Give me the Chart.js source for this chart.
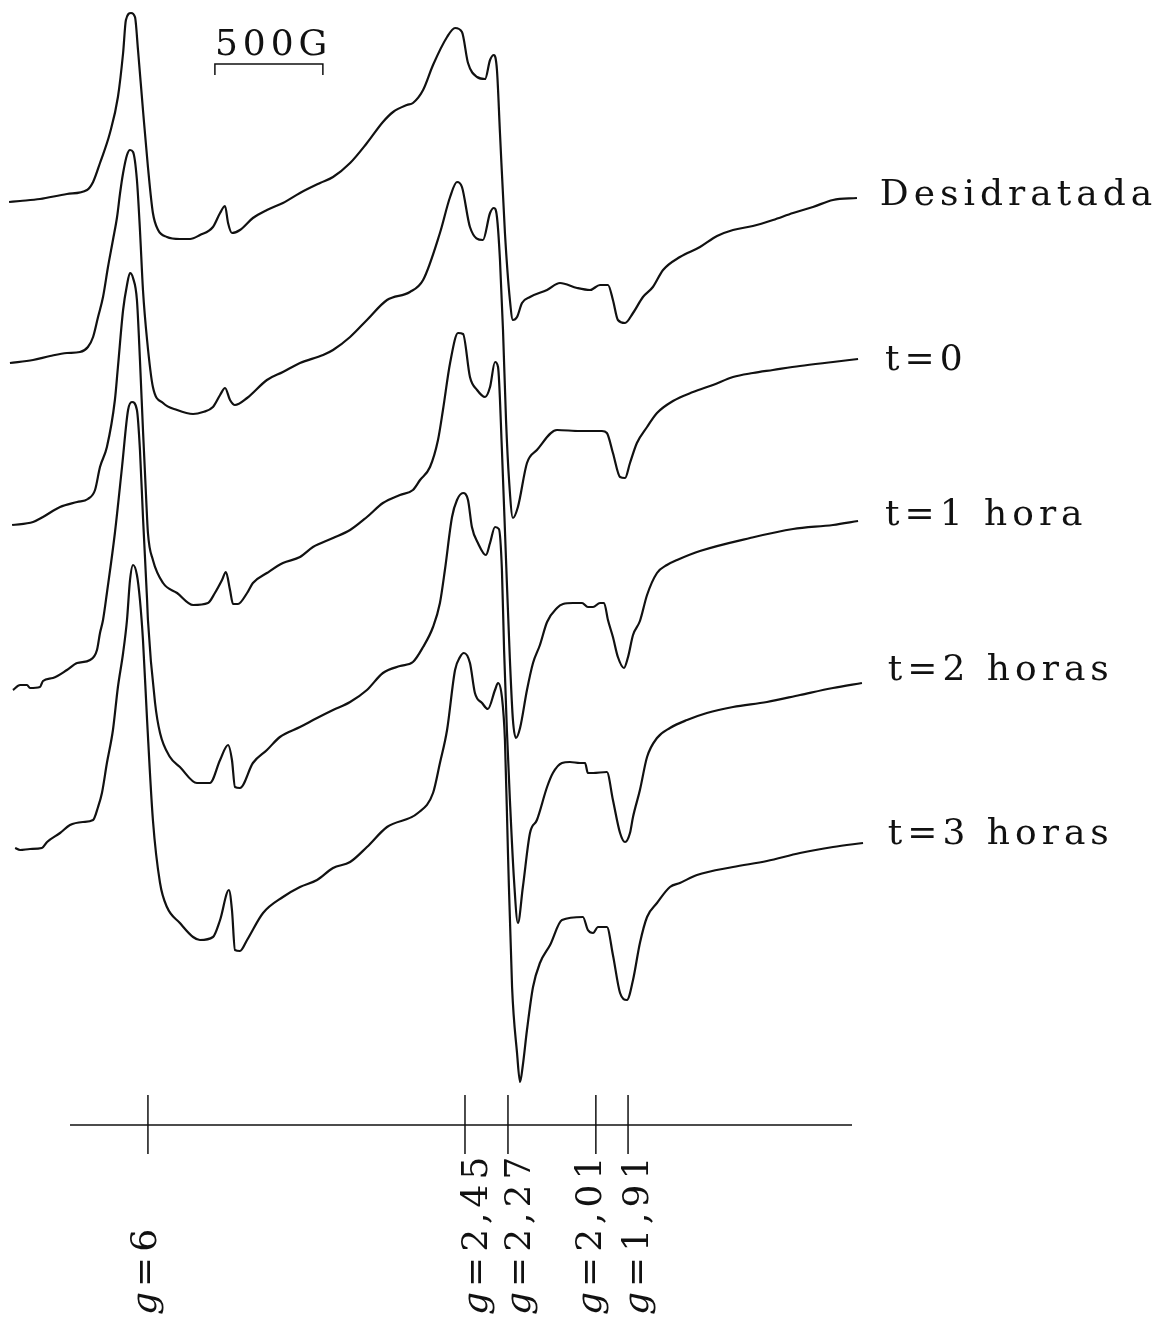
<!DOCTYPE html>
<html>
<head>
<meta charset="utf-8">
<script src="https://cdn.jsdelivr.net/npm/chart.js@4.4.1/dist/chart.umd.min.js"></script>
<style>
  html, body { margin: 0; padding: 0; background: #fff; }
  canvas { display: block; }
</style>
</head>
<body>
<canvas id="epr" width="1171" height="1320"></canvas>
<script>
// EPR spectra, [field (G), signal (a.u.)]; signal measured from the left end of each trace
const desidratada = [[642,0],[693,1],[785,3],[910,8],[1003,12],[1031,20],[1063,39],[1109,69],[1146,105],[1170,149],[1183,182],[1207,189],[1225,185],[1239,152],[1262,92],[1285,35],[1308,-11],[1332,-28],[1373,-35],[1433,-37],[1480,-37],[1526,-33],[1586,-25],[1619,-11],[1642,-4],[1656,-21],[1674,-31],[1711,-28],[1771,-16],[1836,-8],[1910,-1],[1989,9],[2082,19],[2142,25],[2221,39],[2299,59],[2373,80],[2420,90],[2484,97],[2512,99],[2559,112],[2605,137],[2670,165],[2707,174],[2739,170],[2767,139],[2809,125],[2846,123],[2869,142],[2887,147],[2901,132],[2915,69],[2938,-31],[2961,-98],[2975,-118],[2994,-115],[3017,-101],[3054,-95],[3133,-88],[3193,-81],[3272,-86],[3332,-88],[3378,-83],[3415,-83],[3438,-98],[3461,-118],[3494,-121],[3531,-111],[3577,-95],[3623,-85],[3670,-68],[3748,-55],[3841,-45],[3920,-34],[3994,-28],[4086,-24],[4179,-18],[4272,-11],[4364,-5],[4457,2],[4568,4]];

const hora0 = [[646,0],[753,3],[832,7],[910,10],[970,11],[1007,16],[1031,26],[1054,46],[1077,66],[1100,96],[1123,123],[1142,146],[1156,170],[1170,190],[1188,208],[1202,213],[1216,211],[1234,183],[1248,133],[1262,73],[1281,23],[1308,-24],[1355,-40],[1420,-47],[1494,-51],[1540,-49],[1586,-44],[1619,-32],[1642,-25],[1665,-37],[1688,-42],[1744,-35],[1836,-17],[1910,-9],[1989,0],[2096,8],[2142,13],[2221,26],[2299,43],[2392,63],[2498,71],[2559,83],[2637,130],[2684,166],[2716,181],[2739,176],[2776,136],[2836,123],[2869,150],[2887,155],[2901,146],[2915,103],[2929,33],[2943,-57],[2957,-117],[2975,-155],[2998,-144],[3040,-100],[3086,-87],[3179,-67],[3285,-68],[3387,-68],[3410,-70],[3438,-90],[3471,-114],[3494,-115],[3517,-100],[3549,-80],[3596,-64],[3642,-50],[3716,-38],[3809,-29],[3901,-22],[3994,-14],[4086,-10],[4179,-7],[4304,-3],[4457,1],[4573,4]];

const hora1 = [[656,0],[753,3],[799,8],[878,18],[957,23],[1007,26],[1040,35],[1063,58],[1095,78],[1132,125],[1146,158],[1170,215],[1188,240],[1202,252],[1216,247],[1234,225],[1248,165],[1262,95],[1276,30],[1285,-8],[1308,-35],[1355,-58],[1420,-68],[1494,-80],[1563,-78],[1595,-68],[1628,-55],[1646,-47],[1665,-65],[1679,-79],[1702,-79],[1744,-68],[1771,-58],[1836,-48],[1910,-38],[1989,-32],[2049,-22],[2142,-13],[2221,-5],[2299,8],[2373,22],[2452,30],[2512,35],[2545,45],[2591,58],[2628,85],[2651,115],[2684,162],[2721,192],[2744,191],[2776,148],[2809,135],[2846,128],[2869,138],[2892,163],[2906,158],[2924,75],[2943,-35],[2961,-135],[2975,-195],[2989,-213],[3008,-203],[3040,-165],[3068,-138],[3100,-120],[3133,-97],[3179,-83],[3207,-79],[3253,-78],[3295,-78],[3322,-82],[3346,-82],[3378,-78],[3397,-78],[3415,-95],[3438,-112],[3461,-132],[3489,-143],[3508,-132],[3531,-110],[3563,-96],[3596,-70],[3642,-48],[3688,-40],[3735,-35],[3841,-26],[4073,-13],[4272,-4],[4457,0],[4573,4]];

const hora2 = [[660,0],[693,5],[725,5],[739,2],[785,3],[799,9],[845,12],[910,20],[957,27],[1017,30],[1049,40],[1063,57],[1077,70],[1095,97],[1132,157],[1165,223],[1193,280],[1211,288],[1234,280],[1248,240],[1262,173],[1281,90],[1285,70],[1318,-13],[1341,-43],[1387,-67],[1433,-77],[1512,-93],[1572,-93],[1619,-70],[1656,-55],[1674,-70],[1688,-97],[1711,-98],[1771,-73],[1836,-60],[1896,-47],[1989,-37],[2068,-28],[2142,-20],[2221,-12],[2299,0],[2373,17],[2452,24],[2512,28],[2559,43],[2605,63],[2637,87],[2660,120],[2693,173],[2716,190],[2744,197],[2767,190],[2785,163],[2813,147],[2850,135],[2869,147],[2892,163],[2910,161],[2924,120],[2934,40],[2947,-40],[2961,-110],[2980,-190],[2998,-233],[3021,-197],[3054,-143],[3086,-130],[3133,-97],[3160,-83],[3202,-73],[3239,-72],[3285,-73],[3309,-73],[3322,-83],[3346,-83],[3410,-82],[3438,-110],[3471,-143],[3494,-152],[3517,-143],[3531,-127],[3563,-100],[3596,-67],[3642,-48],[3702,-38],[3781,-30],[3873,-23],[3994,-17],[4151,-12],[4304,-5],[4457,2],[4591,7]];

const hora3 = [[670,0],[693,-2],[739,-1],[794,0],[818,6],[878,15],[924,23],[984,26],[1031,28],[1054,41],[1072,55],[1095,85],[1123,118],[1146,161],[1170,195],[1188,228],[1202,268],[1216,283],[1234,273],[1248,248],[1262,208],[1281,128],[1308,28],[1341,-35],[1373,-59],[1433,-75],[1494,-89],[1526,-92],[1586,-89],[1619,-72],[1660,-42],[1674,-62],[1688,-102],[1711,-103],[1744,-92],[1818,-65],[1910,-49],[1989,-39],[2068,-32],[2142,-20],[2221,-14],[2299,1],[2392,21],[2535,35],[2605,55],[2637,85],[2670,118],[2707,178],[2730,191],[2748,195],[2776,185],[2799,155],[2832,145],[2859,139],[2892,158],[2906,165],[2924,151],[2938,108],[2952,-5],[2971,-139],[2994,-205],[3008,-234],[3021,-217],[3040,-182],[3068,-139],[3100,-115],[3147,-97],[3202,-72],[3299,-69],[3322,-82],[3346,-85],[3369,-79],[3410,-79],[3438,-107],[3471,-145],[3503,-152],[3531,-132],[3563,-95],[3596,-69],[3642,-55],[3702,-39],[3748,-35],[3827,-27],[3994,-19],[4151,-13],[4304,-5],[4457,1],[4596,5]];

const traces = [desidratada, hora0, hora1, hora2, hora3];
const traceNames = ['Desidratada', 't=0', 't=1 hora', 't=2 horas', 't=3 horas'];

// g markers on the field axis
const gLabels = ['6', '2,45', '2,27', '2,01', '1,91'];
const gFields = [1285, 2753, 2952, 3359, 3508];

const scaleBarGauss = 500;

// layout (a.u. on the signal axis, G on the field axis)
const layout = {
  fieldMin: 600, fieldMax: 6022,
  signalMin: 0, signalMax: 1320,
  offsets: [1118, 957, 795, 630, 472],
  nameField: [4674, 4698, 4698, 4711, 4711],
  nameY: [1115, 950, 795, 640, 476],
  axisY: 195, axisFrom: 924, axisTo: 4545, tickLow: 166, tickHigh: 225,
  gLabelField: [1322, 2855, 3054, 3383, 3600], gLabelBottom: 5,
  barStart: 1595, barY: 1256, barDrop: 11, barTextY: 1265
};

const ink = '#111';
const font = '"DejaVu Serif", "Liberation Serif", serif';

const datasets = traces.map((tr, i) => ({
  label: traceNames[i],
  data: tr.map(p => ({ x: p[0], y: p[1] + layout.offsets[i] })),
  borderColor: ink,
  borderWidth: 2.2,
  cubicInterpolationMode: 'monotone'
}));

// field axis and its g ticks
datasets.push({
  data: [{ x: layout.axisFrom, y: layout.axisY }, { x: layout.axisTo, y: layout.axisY }],
  borderColor: ink, borderWidth: 1.5
});
gFields.forEach(f => datasets.push({
  data: [{ x: f, y: layout.tickLow }, { x: f, y: layout.tickHigh }],
  borderColor: ink, borderWidth: 1.5
}));

// 500 G scale bar
const b0 = layout.barStart, b1 = layout.barStart + scaleBarGauss;
datasets.push({
  data: [
    { x: b0, y: layout.barY - layout.barDrop }, { x: b0, y: layout.barY },
    { x: b1, y: layout.barY }, { x: b1, y: layout.barY - layout.barDrop }
  ],
  borderColor: ink, borderWidth: 1.5
});

const annotate = {
  id: 'annotate',
  afterDatasetsDraw(chart) {
    const { ctx, scales: { x, y } } = chart;
    ctx.save();
    ctx.fillStyle = ink;
    ctx.textBaseline = 'alphabetic';
    ctx.letterSpacing = '5px';
    ctx.font = '36px ' + font;

    traceNames.forEach((name, i) => {
      ctx.fillText(name, x.getPixelForValue(layout.nameField[i]), y.getPixelForValue(layout.nameY[i]));
    });

    ctx.fillText(scaleBarGauss + 'G', x.getPixelForValue(layout.barStart), y.getPixelForValue(layout.barTextY));

    // rotated g labels, read bottom to top
    gLabels.forEach((val, i) => {
      ctx.save();
      ctx.translate(x.getPixelForValue(layout.gLabelField[i]), y.getPixelForValue(layout.gLabelBottom));
      ctx.rotate(-Math.PI / 2);
      ctx.font = 'italic 36px ' + font;
      ctx.fillText('g', 0, 0);
      const w = ctx.measureText('g').width;
      ctx.font = '36px ' + font;
      ctx.fillText('=' + val, w, 0);
      ctx.restore();
    });
    ctx.restore();
  }
};

new Chart(document.getElementById('epr'), {
  type: 'scatter',
  data: { datasets },
  options: {
    responsive: false,
    animation: false,
    layout: { padding: 0 },
    showLine: true,
    clip: false,
    elements: { point: { radius: 0, hoverRadius: 0 }, line: { fill: false } },
    plugins: { legend: { display: false }, tooltip: { enabled: false } },
    events: [],
    scales: {
      x: { type: 'linear', display: false, min: layout.fieldMin, max: layout.fieldMax },
      y: { type: 'linear', display: false, min: layout.signalMin, max: layout.signalMax }
    }
  },
  plugins: [annotate]
});
</script>
</body>
</html>
